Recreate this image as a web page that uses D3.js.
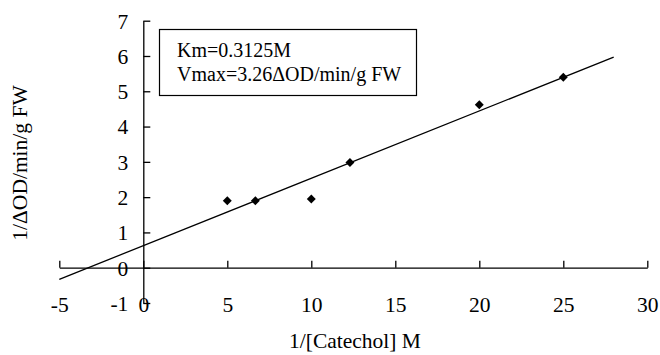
<!DOCTYPE html>
<html><head><meta charset="utf-8">
<script src="https://cdn.jsdelivr.net/npm/d3@7"></script>
<style>
html,body{margin:0;padding:0;background:#fff;}
</style></head>
<body>
<svg id="chart" width="660" height="355"></svg>
<script>
const xValues = [5, 6.67, 10, 12.3, 20, 25];
const yValues = [1.9, 1.9, 1.95, 2.98, 4.62, 5.4];
const trendX = [-5, 28];
const trendY = [-0.33, 5.97];
const xTicks = [-5, 0, 5, 10, 15, 20, 25, 30];
const yTicks = [-1, 0, 1, 2, 3, 4, 5, 6, 7];
const boxLines = ["Km=0.3125M", "Vmax=3.26\u0394OD/min/g FW"];
const xTitle = "1/[Catechol] M";
const yTitle = "1/\u0394OD/min/g FW";

const FONT = "'Times New Roman', Times, 'Liberation Serif', 'DejaVu Serif', serif";
const svg = d3.select("#chart");
const x = d3.scaleLinear().domain([-5, 30]).range([59.3, 647.3]);
const y = d3.scaleLinear().domain([-1, 7]).range([303, 20.7]);
const FS = 21.5;
const fmt = d => String(d);

const yAxis = d3.axisLeft(y).tickValues(yTicks).tickFormat(fmt)
  .tickSizeInner(-7).tickSizeOuter(0).tickPadding(15);
const gy = svg.append("g").attr("transform", `translate(${x(0)},0)`).call(yAxis)
  .attr("font-family", null).style("font-family", FONT).style("font-size", FS + "px");
gy.selectAll("text").attr("dy", "0.34em");

const xAxis = d3.axisBottom(x).tickValues(xTicks).tickFormat(fmt)
  .tickSizeInner(-7).tickSizeOuter(0).tickPadding(29);
svg.append("g").attr("transform", `translate(0,${y(0)})`).call(xAxis)
  .attr("font-family", null).style("font-family", FONT).style("font-size", FS + "px");

svg.selectAll(".domain, .tick line").attr("stroke", "#000").attr("stroke-width", 1.3);
svg.selectAll(".tick text").attr("fill", "#000");

const line = d3.line().x(d => x(d[0])).y(d => y(d[1]));
svg.append("path").datum(d3.zip(trendX, trendY)).attr("d", line)
  .attr("fill", "none").attr("stroke", "#000").attr("stroke-width", 1.3);

svg.append("g").selectAll("path").data(d3.zip(xValues, yValues)).join("path")
  .attr("d", d3.symbol(d3.symbolSquare, 40)())
  .attr("transform", d => `translate(${x(d[0])},${y(d[1])}) rotate(45)`)
  .attr("fill", "#000");

svg.append("rect").attr("x", 159.5).attr("y", 29.5).attr("width", 257).attr("height", 66)
  .attr("fill", "#fff").attr("stroke", "#000").attr("stroke-width", 1.2);
svg.append("g").style("font-family", FONT).style("font-size", "20px")
  .selectAll("text").data(boxLines).join("text")
  .attr("x", 177).attr("y", (d, i) => 57 + i * 24).text(d => d);

svg.append("text").attr("x", 355).attr("y", 348).attr("text-anchor", "middle")
  .style("font-family", FONT).style("font-size", FS + "px").text(xTitle);
svg.append("text").attr("transform", "translate(27,163) rotate(-90)").attr("text-anchor", "middle")
  .style("font-family", FONT).style("font-size", FS + "px").text(yTitle);
</script>
</body></html>
